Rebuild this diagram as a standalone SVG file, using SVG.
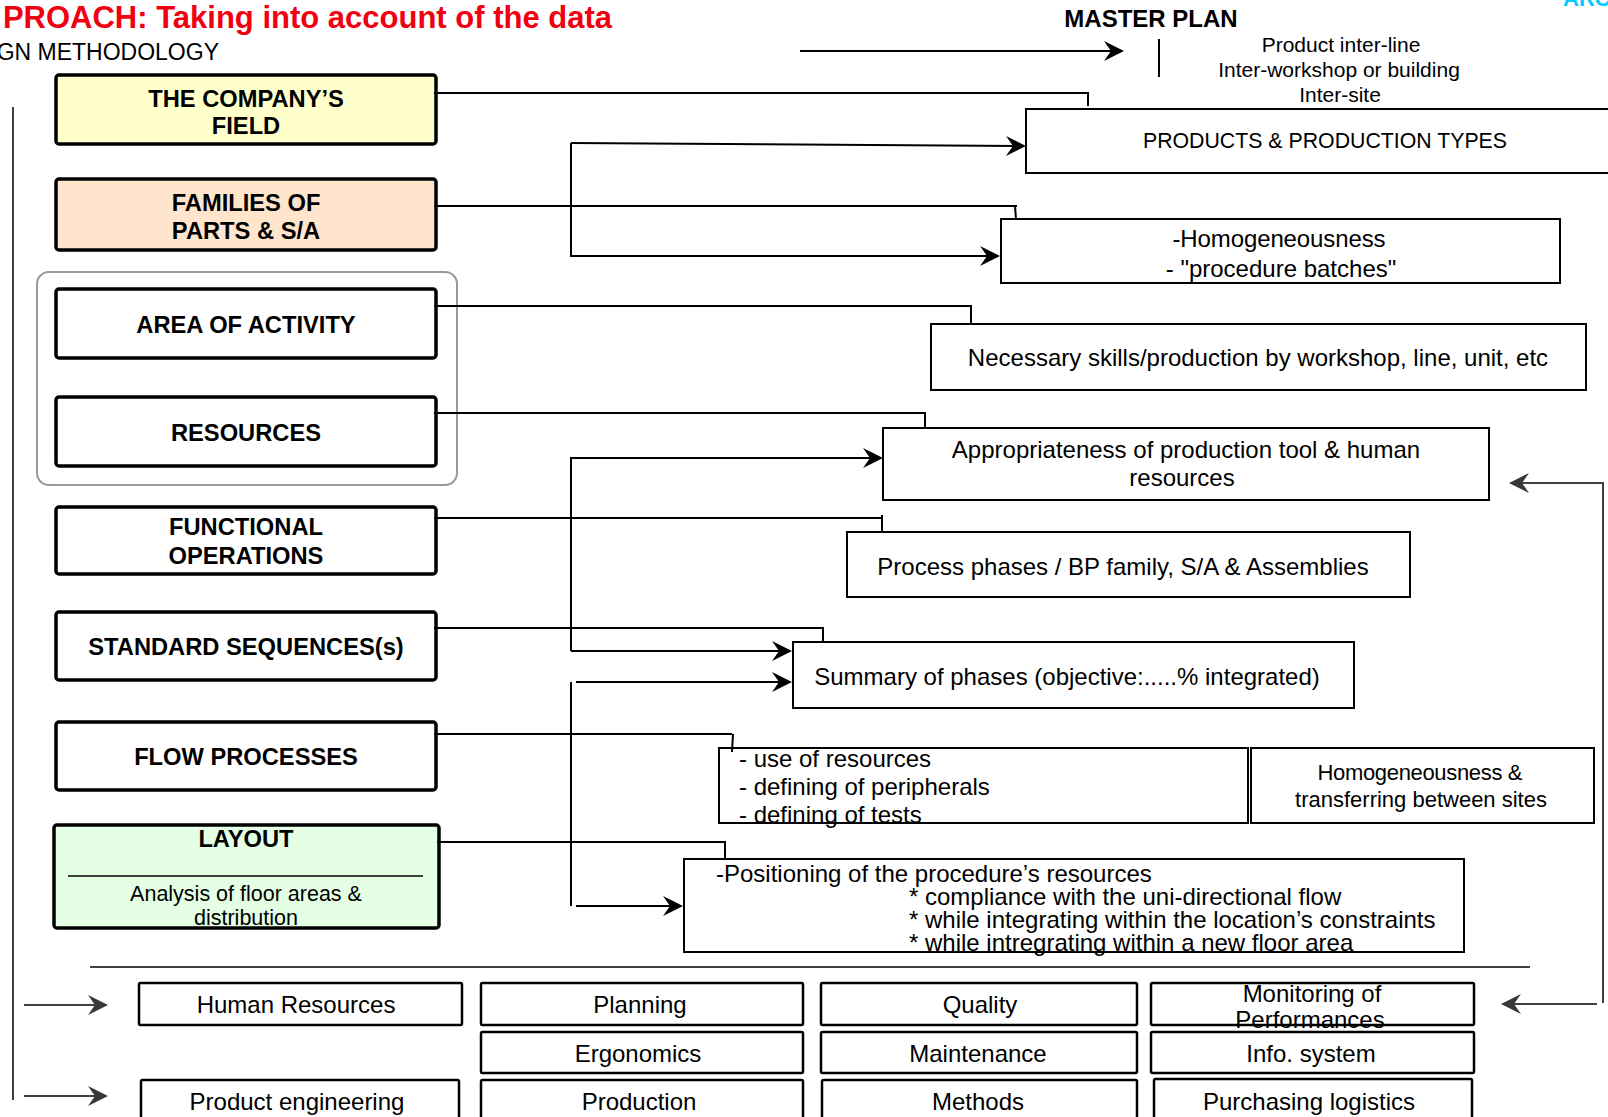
<svg xmlns="http://www.w3.org/2000/svg" width="1608" height="1117" viewBox="0 0 1608 1117">
<style>
text{font-family:"Liberation Sans",Arial,Helvetica,sans-serif;fill:#000}
.b{font-weight:bold;font-size:23.7px;text-anchor:middle}
.t{font-size:24px}
.m{text-anchor:middle}
.lb{stroke:#000;stroke-width:3.5;rx:3}
.rb{fill:#fff;stroke:#000;stroke-width:2}
.bb{fill:#fff;stroke:#000;stroke-width:2.5;rx:1.5}
.cn{fill:none;stroke:#000;stroke-width:2}
.gy{fill:none;stroke:#404040;stroke-width:2}
</style>
<defs>
<marker id="ah" viewBox="-22 -11 24 22" refX="-3" refY="0" markerWidth="24" markerHeight="22" markerUnits="userSpaceOnUse" orient="auto"><path d="M0,0 L-20,-10 L-13,0 L-20,10 Z" fill="#000"/></marker>
<marker id="ag" viewBox="-22 -11 24 22" refX="-3" refY="0" markerWidth="24" markerHeight="22" markerUnits="userSpaceOnUse" orient="auto"><path d="M0,0 L-20,-10 L-13,0 L-20,10 Z" fill="#383838"/></marker>
</defs>
<rect width="1608" height="1117" fill="#fff"/>

<g id="header">
<text x="612" y="28" style="font-size:31px;font-weight:bold;fill:#F00010;text-anchor:end">PROACH: Taking into account of the data</text>
<text x="219" y="60" style="font-size:23px;text-anchor:end">GN METHODOLOGY</text>
<text x="1563" y="6" style="font-size:22px;font-weight:bold;fill:#00CCFF">ARC</text>
</g>

<g id="master-plan">
<text x="1151" y="27" style="font-size:24px;font-weight:bold;text-anchor:middle">MASTER PLAN</text>
<line x1="1159" y1="39" x2="1159" y2="77" stroke="#000" stroke-width="2"/>
<text x="1341" y="52" class="m" style="font-size:21px">Product inter-line</text>
<text x="1339" y="77" class="m" style="font-size:21px">Inter-workshop or building</text>
<text x="1340" y="102" class="m" style="font-size:21px">Inter-site</text>
</g>

<g id="group-area-resources">
<rect x="37" y="272" width="420" height="213" rx="12" fill="none" stroke="#999" stroke-width="2"/>
</g>

<g id="n-company">
<rect x="56" y="75" width="380" height="69" class="lb" fill="#FFFFCC"/>
<text x="246" y="107" class="b">THE COMPANY’S</text>
<text x="246" y="134" class="b">FIELD</text>
</g>
<g id="n-families">
<rect x="56" y="179" width="380" height="71" class="lb" fill="#FFE5CC"/>
<text x="246" y="211" class="b">FAMILIES OF</text>
<text x="246" y="239" class="b">PARTS &amp; S/A</text>
</g>
<g id="n-area">
<rect x="56" y="289" width="380" height="69" class="lb" fill="#fff"/>
<text x="246" y="333" class="b">AREA OF ACTIVITY</text>
</g>
<g id="n-resources">
<rect x="56" y="397" width="380" height="69" class="lb" fill="#fff"/>
<text x="246" y="441" class="b">RESOURCES</text>
</g>
<g id="n-functional">
<rect x="56" y="507" width="380" height="67" class="lb" fill="#fff"/>
<text x="246" y="535" class="b">FUNCTIONAL</text>
<text x="246" y="564" class="b">OPERATIONS</text>
</g>
<g id="n-standard">
<rect x="56" y="612" width="380" height="68" class="lb" fill="#fff"/>
<text x="246" y="655" class="b">STANDARD SEQUENCES(s)</text>
</g>
<g id="n-flow">
<rect x="56" y="722" width="380" height="68" class="lb" fill="#fff"/>
<text x="246" y="765" class="b">FLOW PROCESSES</text>
</g>
<g id="n-layout">
<rect x="54" y="825" width="385" height="103" class="lb" fill="#E5FFE5"/>
<text x="246" y="847" class="b">LAYOUT</text>
<line x1="68" y1="876" x2="423" y2="876" stroke="#000" stroke-width="1.5"/>
<text x="246" y="901" class="m" style="font-size:21.5px">Analysis of floor areas &amp;</text>
<text x="246" y="925" class="m" style="font-size:21.5px">distribution</text>
</g>

<g id="n-products">
<rect x="1026" y="109" width="620" height="64" class="rb"/>
<text x="1325" y="148" class="m" style="font-size:21.3px">PRODUCTS &amp; PRODUCTION TYPES</text>
</g>
<g id="n-homogeneousness">
<rect x="1001" y="219" width="559" height="64" class="rb"/>
<text x="1279" y="247" class="t m" textLength="213">-Homogeneousness</text>
<text x="1281" y="277" class="t m">- "procedure batches"</text>
</g>
<g id="n-skills">
<rect x="931" y="324" width="655" height="66" class="rb"/>
<text x="1258" y="366" class="t m">Necessary skills/production by workshop, line, unit, etc</text>
</g>
<g id="n-appropriateness">
<rect x="883" y="428" width="606" height="72" class="rb"/>
<text x="1186" y="458" class="t m">Appropriateness of production tool &amp; human</text>
<text x="1182" y="486" class="t m">resources</text>
</g>
<g id="n-process">
<rect x="847" y="532" width="563" height="65" class="rb"/>
<text x="1123" y="575" class="t m">Process phases / BP family, S/A &amp; Assemblies</text>
</g>
<g id="n-summary">
<rect x="793" y="642" width="561" height="66" class="rb"/>
<text x="1067" y="685" class="t m">Summary of phases (objective:.....% integrated)</text>
</g>
<g id="n-use">
<rect x="719" y="748" width="529" height="75" class="rb"/>
<text x="739" y="767" class="t">- use of resources</text>
<text x="739" y="795" class="t">- defining of peripherals</text>
<text x="739" y="823" class="t">- defining of tests</text>
</g>
<g id="n-transfer">
<rect x="1251" y="748" width="343" height="75" class="rb"/>
<text x="1420" y="780" class="m" style="font-size:22px" textLength="205">Homogeneousness &amp;</text>
<text x="1421" y="807" class="m" style="font-size:22px">transferring between sites</text>
</g>
<g id="n-positioning">
<rect x="684" y="859" width="780" height="93" class="rb"/>
<text x="716" y="882" class="t">-Positioning of the procedure’s resources</text>
<text x="909" y="905" class="t">* compliance with the uni-directional flow</text>
<text x="909" y="928" class="t">* while integrating within the location’s constraints</text>
<text x="909" y="951" class="t">* while intregrating within a new floor area</text>
</g>

<g id="n-human-resources"><rect x="139" y="983" width="323" height="42" class="bb"/><text x="296" y="1013" class="t m">Human Resources</text></g>
<g id="n-planning"><rect x="481" y="983" width="322" height="42" class="bb"/><text x="640" y="1013" class="t m">Planning</text></g>
<g id="n-quality"><rect x="821" y="983" width="316" height="42" class="bb"/><text x="980" y="1013" class="t m">Quality</text></g>
<g id="n-monitoring"><rect x="1151" y="983" width="323" height="42" class="bb"/><text x="1312" y="1002" class="t m">Monitoring of</text><text x="1310" y="1028" class="t m">Performances</text></g>
<g id="n-ergonomics"><rect x="481" y="1032" width="322" height="41" class="bb"/><text x="638" y="1062" class="t m">Ergonomics</text></g>
<g id="n-maintenance"><rect x="821" y="1032" width="316" height="41" class="bb"/><text x="978" y="1062" class="t m">Maintenance</text></g>
<g id="n-info"><rect x="1151" y="1032" width="323" height="41" class="bb"/><text x="1311" y="1062" class="t m">Info. system</text></g>
<g id="n-product-engineering"><rect x="141" y="1080" width="318" height="60" class="bb"/><text x="297" y="1110" class="t m">Product engineering</text></g>
<g id="n-production"><rect x="481" y="1080" width="322" height="60" class="bb"/><text x="639" y="1110" class="t m">Production</text></g>
<g id="n-methods"><rect x="822" y="1080" width="315" height="60" class="bb"/><text x="978" y="1110" class="t m">Methods</text></g>
<g id="n-purchasing"><rect x="1154" y="1079" width="318" height="60" class="bb"/><text x="1309" y="1110" class="t m">Purchasing logistics</text></g>

<g id="connectors">
<polyline class="cn" points="434,93 1088,93 1088,106"/>
<polyline class="cn" points="434,206 1017,206"/>
<line class="cn" x1="1015" y1="206" x2="1016" y2="219" stroke-width="1.5"/>
<polyline class="cn" points="434,306 971,306 971,324"/>
<polyline class="cn" points="434,413 924,413"/>
<line class="cn" x1="925" y1="412" x2="925" y2="428" stroke-width="1.5"/>
<polyline class="cn" points="434,518 881,518"/>
<line class="cn" x1="882" y1="515" x2="882" y2="532" stroke-width="1.5"/>
<polyline class="cn" points="434,628 823,628 823,642"/>
<polyline class="cn" points="434,734 732,734"/>
<line class="cn" x1="733" y1="734" x2="732" y2="752" stroke-width="1.5"/>
<polyline class="cn" points="437,842 725,842 725,859"/>

<path class="cn" d="M571,143 L1023,146" marker-end="url(#ah)"/>
<path class="cn" d="M571,143 L571,256 L997,256" marker-end="url(#ah)"/>
<path class="cn" d="M571,651 L571,458 L880,458" marker-end="url(#ah)"/>
<path class="cn" d="M571,651 L789,651" marker-end="url(#ah)"/>
<path class="cn" d="M576,682 L789,682" marker-end="url(#ah)"/>
<path class="cn" d="M571,682 L571,906"/>
<path class="cn" d="M576,906 L680,906" marker-end="url(#ah)"/>
<path class="cn" d="M800,51 L1121,51" marker-end="url(#ah)"/>

<path class="gy" d="M13,107 L13,1100"/>
<path class="gy" d="M90,967 L1530,967"/>
<path class="gy" d="M24,1005 L105,1005" marker-end="url(#ag)"/>
<path class="gy" d="M24,1096 L105,1096" marker-end="url(#ag)"/>
<path class="gy" d="M1603,1003 L1603,483 L1512,483" marker-end="url(#ag)"/>
<path class="gy" d="M1597,1004 L1504,1004" marker-end="url(#ag)"/>
</g>
</svg>
